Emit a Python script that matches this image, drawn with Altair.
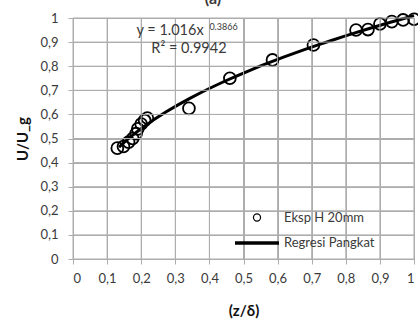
import altair as alt
import pandas as pd

# data
z_delta = [0.13, 0.148, 0.163, 0.175, 0.185, 0.19, 0.2, 0.21, 0.218, 0.34, 0.46, 0.585, 0.705, 0.83, 0.865, 0.9, 0.935, 0.968, 1.0]
u_ug = [0.46, 0.467, 0.485, 0.5, 0.52, 0.54, 0.56, 0.575, 0.585, 0.625, 0.75, 0.826, 0.888, 0.95, 0.952, 0.975, 0.985, 0.992, 0.995]
series_names = ["Eksp H 20mm", "Regresi Pangkat"]
tick_values = [0, 0.1, 0.2, 0.3, 0.4, 0.5, 0.6, 0.7, 0.8, 0.9, 1.0]
eq_text = ["y = 1.016x"]
eq_exp = ["0.3866"]
r2_text = ["R² = 0.9942"]
panel_label = ["(a)"]

df = pd.DataFrame({"z": z_delta, "u": u_ug})
legend_df = pd.DataFrame({"series": series_names})
grid_df = pd.DataFrame({"v": tick_values})

FONT = "Lato"
GRID = "#adadad"
TXT = "#3a3a3a"
label_expr = "replace(format(datum.value, '.1~f'), '.', ',')"

xscale = alt.Scale(domain=[0, 1], nice=False)
yscale = alt.Scale(domain=[0, 1], nice=False)

X = alt.X("z:Q", scale=xscale, title="(z/δ)")
Y = alt.Y("u:Q", scale=yscale, title="U/U_g")

# gridlines drawn from the tick values through the chart's own scales
vgrid = alt.Chart(grid_df).mark_rule(stroke=GRID, strokeWidth=1, opacity=1).encode(
    x=alt.X("v:Q", scale=xscale, title="(z/δ)"),
    y=alt.value(0), y2=alt.value(241))
hgrid = alt.Chart(grid_df).mark_rule(stroke=GRID, strokeWidth=1, opacity=1).encode(
    y=alt.Y("v:Q", scale=yscale, title="U/U_g"),
    x=alt.value(0), x2=alt.value(341))

base = alt.Chart(df)

points = base.mark_point(filled=False, color="black", strokeWidth=1.8, size=140, opacity=1).encode(
    x=X, y=Y,
)

reg = base.transform_regression("z", "u", method="pow", extent=[0.135, 1.0]).mark_line(
    color="black", strokeWidth=3
).encode(x=X, y=Y)

leg = alt.Legend(title=None, orient="none", legendX=174, legendY=193,
                 labelFont=FONT, labelFontSize=13, labelColor=TXT,
                 labelOffset=17, padding=0, rowPadding=8)

legend_layer = alt.Chart(legend_df).mark_point(
    filled=False, color="black", opacity=0
).encode(
    x=alt.value(-500), y=alt.value(-500),
    shape=alt.Shape("series:N", scale=alt.Scale(domain=series_names, range=["circle", "M-2.75,0H2.75"]), legend=leg),
    size=alt.Size("series:N", scale=alt.Scale(domain=series_names, range=[50, 256]), legend=leg),
    strokeWidth=alt.StrokeWidth("series:N", scale=alt.Scale(domain=series_names, range=[1.2, 3.5]), legend=leg),
)

tx = dict(font=FONT, fontWeight="normal", color=TXT)
eq1 = alt.Chart(pd.DataFrame({"t": eq_text})).mark_text(align="left", baseline="middle", fontSize=14.5, **tx).encode(
    x=alt.datum(0.186), y=alt.datum(0.946), text="t:N")
eq2 = alt.Chart(pd.DataFrame({"t": eq_exp})).mark_text(align="left", baseline="middle", fontSize=9, **tx).encode(
    x=alt.datum(0.400), y=alt.datum(0.962), text="t:N")
eq3 = alt.Chart(pd.DataFrame({"t": r2_text})).mark_text(align="center", baseline="middle", fontSize=14.5, **tx).encode(
    x=alt.datum(0.34), y=alt.datum(0.873), text="t:N")
title_txt = alt.Chart(pd.DataFrame({"t": panel_label})).mark_text(
    align="center", baseline="bottom", fontSize=16, font=FONT, fontWeight="bold", color=TXT
).encode(x=alt.value(140), y=alt.value(-11), text="t:N")

chart = alt.layer(points, reg, vgrid, hgrid, legend_layer, eq1, eq2, eq3, title_txt).properties(
    width=341, height=241,
    autosize=alt.AutoSizeParams(type="none"),
    padding={"left": 73, "top": 18, "right": 4, "bottom": 63},
).configure_view(stroke=GRID, strokeWidth=1).configure_legend(
    symbolStrokeColor="black", symbolOpacity=1
).configure_axis(
    grid=True, gridColor=GRID, gridOpacity=1, domainColor=GRID, tickColor=GRID, tickSize=5,
    tickCount=10, labelExpr=label_expr,
    labelFont=FONT, labelFontSize=13, labelColor=TXT,
    titleFont=FONT, titleFontSize=15, titleFontWeight="bold", titleColor="#111",
).configure_axisX(
    labelPadding=8, titleY=51, titleBaseline="middle",
).configure_axisY(
    labelPadding=10, titleX=-51, titleY=120.5, titleAngle=270,
    titleBaseline="middle", titleAlign="center",
)

chart.save("out.html", embed_options={"renderer": "svg", "actions": False})
